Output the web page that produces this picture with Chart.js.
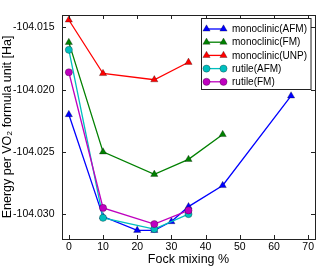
<!DOCTYPE html>
<html>
<head>
<meta charset="utf-8">
<script src="https://cdn.jsdelivr.net/npm/chart.js@4/dist/chart.umd.min.js"></script>
<style>
  html, body { margin: 0; padding: 0; background: #fff; }
  #wrap { width: 332px; height: 275px; }
</style>
</head>
<body>
<div id="wrap"><canvas id="c" width="332" height="275"></canvas></div>
<script>
// số liệu
const xTicks = [0, 10, 20, 30, 40, 50, 60, 70];
const yTicks = [-104.015, -104.020, -104.025, -104.030];

const monoAfmX = [0, 10, 20, 25, 30, 35, 45, 65];
const monoAfmY = [-104.0220, -104.0302, -104.0313, -104.0313, -104.0306, -104.0294, -104.0277, -104.0205];
const monoFmX = [0, 10, 25, 35, 45];
const monoFmY = [-104.0162, -104.0250, -104.0268, -104.0256, -104.0236];
const monoUnpX = [0, 10, 25, 35];
const monoUnpY = [-104.0144, -104.0187, -104.0192, -104.0178];
const rutAfmX = [0, 10, 25, 35];
const rutAfmY = [-104.0168, -104.0303, -104.0312, -104.0300];
const rutFmX = [0, 10, 25, 35];
const rutFmY = [-104.0186, -104.0295, -104.0308, -104.0297];

const labels = ['monoclinic(AFM)', 'monoclinic(FM)', 'monoclinic(UNP)', 'rutile(AFM)', 'rutile(FM)'];
const colors = ['#0000ff', '#008000', '#ff0000', '#00bfbf', '#bf00bf'];
const markers = ['triangle', 'triangle', 'triangle', 'circle', 'circle'];

const FONT = "'Liberation Sans', Arial, sans-serif";
const EDGE = 'rgba(0,0,0,0.55)';

function pts(xs, ys) { return xs.map((x, i) => ({ x: x, y: ys[i] })); }
const series = [pts(monoAfmX, monoAfmY), pts(monoFmX, monoFmY), pts(monoUnpX, monoUnpY),
                pts(rutAfmX, rutAfmY), pts(rutFmX, rutFmY)];

// khung + vạch chia hướng vào trong kiểu matplotlib
const boxTicks = {
  id: 'boxTicks',
  afterDatasetsDraw(chart) {
    const { ctx, chartArea: a, scales } = chart;
    ctx.save();
    ctx.strokeStyle = '#222';
    ctx.lineWidth = 1;
    const L = 4;
    ctx.beginPath();
    xTicks.forEach(v => {
      const px = Math.round(scales.x.getPixelForValue(v)) + 0.5;
      ctx.moveTo(px, a.bottom); ctx.lineTo(px, a.bottom - L);
      ctx.moveTo(px, a.top); ctx.lineTo(px, a.top + L);
    });
    yTicks.forEach(v => {
      const py = Math.round(scales.y.getPixelForValue(v)) + 0.5;
      ctx.moveTo(a.left, py); ctx.lineTo(a.left + L, py);
      ctx.moveTo(a.right, py); ctx.lineTo(a.right - L, py);
    });
    ctx.stroke();
    ctx.strokeRect(Math.round(a.left) + 0.5, Math.round(a.top) + 0.5,
                   Math.round(a.right - a.left), Math.round(a.bottom - a.top));
    ctx.restore();
  }
};

// chú thích: đường + 2 marker
const mplLegend = {
  id: 'mplLegend',
  afterDraw(chart) {
    const { ctx, chartArea: a } = chart;
    ctx.save();
    ctx.font = '10px ' + FONT;
    let tw = 0;
    labels.forEach(t => { tw = Math.max(tw, ctx.measureText(t).width); });
    const rowH = 13.2, sampleW = 17, gap = 8.5;
    const w = 5 + sampleW + gap + tw + 4;
    const h = rowH * labels.length + 5;
    const x0 = Math.round(a.right - 4 - w) + 0.5;
    const y0 = Math.round(a.top + 3) + 0.5;
    ctx.fillStyle = '#fff';
    ctx.fillRect(x0, y0, w, h);
    ctx.strokeStyle = '#222';
    ctx.lineWidth = 1;
    ctx.strokeRect(x0, y0, w, h);
    chart.data.datasets.forEach((ds, i) => {
      const cy = y0 + 10.5 + i * rowH;
      const sx = x0 + 5;
      ctx.strokeStyle = ds.borderColor;
      ctx.lineWidth = 1.3;
      ctx.beginPath(); ctx.moveTo(sx, cy); ctx.lineTo(sx + sampleW, cy); ctx.stroke();
      [sx, sx + sampleW].forEach(px => {
        ctx.fillStyle = ds.pointBackgroundColor;
        ctx.strokeStyle = ds.pointBorderColor;
        ctx.lineWidth = ds.pointBorderWidth;
        Chart.helpers.drawPoint(ctx, {
          pointStyle: ds.pointStyle, radius: ds.pointRadius, rotation: 0, borderWidth: ds.pointBorderWidth
        }, px, cy);
      });
      ctx.fillStyle = '#000';
      ctx.textBaseline = 'middle';
      ctx.textAlign = 'left';
      ctx.fillText(ds.label, sx + sampleW + gap, cy + 0.5);
    });
    ctx.restore();
  }
};

const datasets = series.map((d, i) => ({
  label: labels[i],
  data: d,
  borderColor: colors[i],
  backgroundColor: colors[i],
  pointBorderColor: EDGE,
  pointBackgroundColor: colors[i],
  pointStyle: markers[i],
  pointRadius: markers[i] === 'circle' ? 3.6 : 4.2,
  pointBorderWidth: 0.5,
  borderWidth: 1.3,
  tension: 0,
  order: 4 - i
}));

new Chart(document.getElementById('c'), {
  type: 'line',
  data: { datasets: datasets },
  options: {
    responsive: false,
    animation: false,
    events: [],
    layout: { padding: { top: 15, right: 17, left: 0, bottom: 0 } },
    plugins: { legend: { display: false }, tooltip: { enabled: false } },
    scales: {
      x: {
        type: 'linear', min: -2, max: 72,
        grid: { display: false, drawTicks: false }, border: { display: false },
        afterBuildTicks: s => { s.ticks = xTicks.map(v => ({ value: v })); },
        afterFit: s => { s.height = 36; },
        ticks: { color: '#000', font: { family: FONT, size: 10.5 }, padding: 1.5, maxRotation: 0 },
        title: { display: true, text: 'Fock mixing %', color: '#000', font: { family: FONT, size: 12.5 }, padding: { top: 0, bottom: 7.5 } }
      },
      y: {
        type: 'linear', min: -104.032, max: -104.014,
        grid: { display: false, drawTicks: false }, border: { display: false },
        afterBuildTicks: s => { s.ticks = yTicks.map(v => ({ value: v })); },
        afterFit: s => { s.width = 62; },
        ticks: { color: '#000', font: { family: FONT, size: 10.5 }, padding: 7.5, callback: v => v.toFixed(3) },
        title: { display: true, text: 'Energy per VO₂ formula unit [Ha]', color: '#000', font: { family: FONT, size: 12.5 }, padding: { top: 0, bottom: 0 } }
      }
    }
  },
  plugins: [boxTicks, mplLegend]
});
</script>
</body>
</html>
